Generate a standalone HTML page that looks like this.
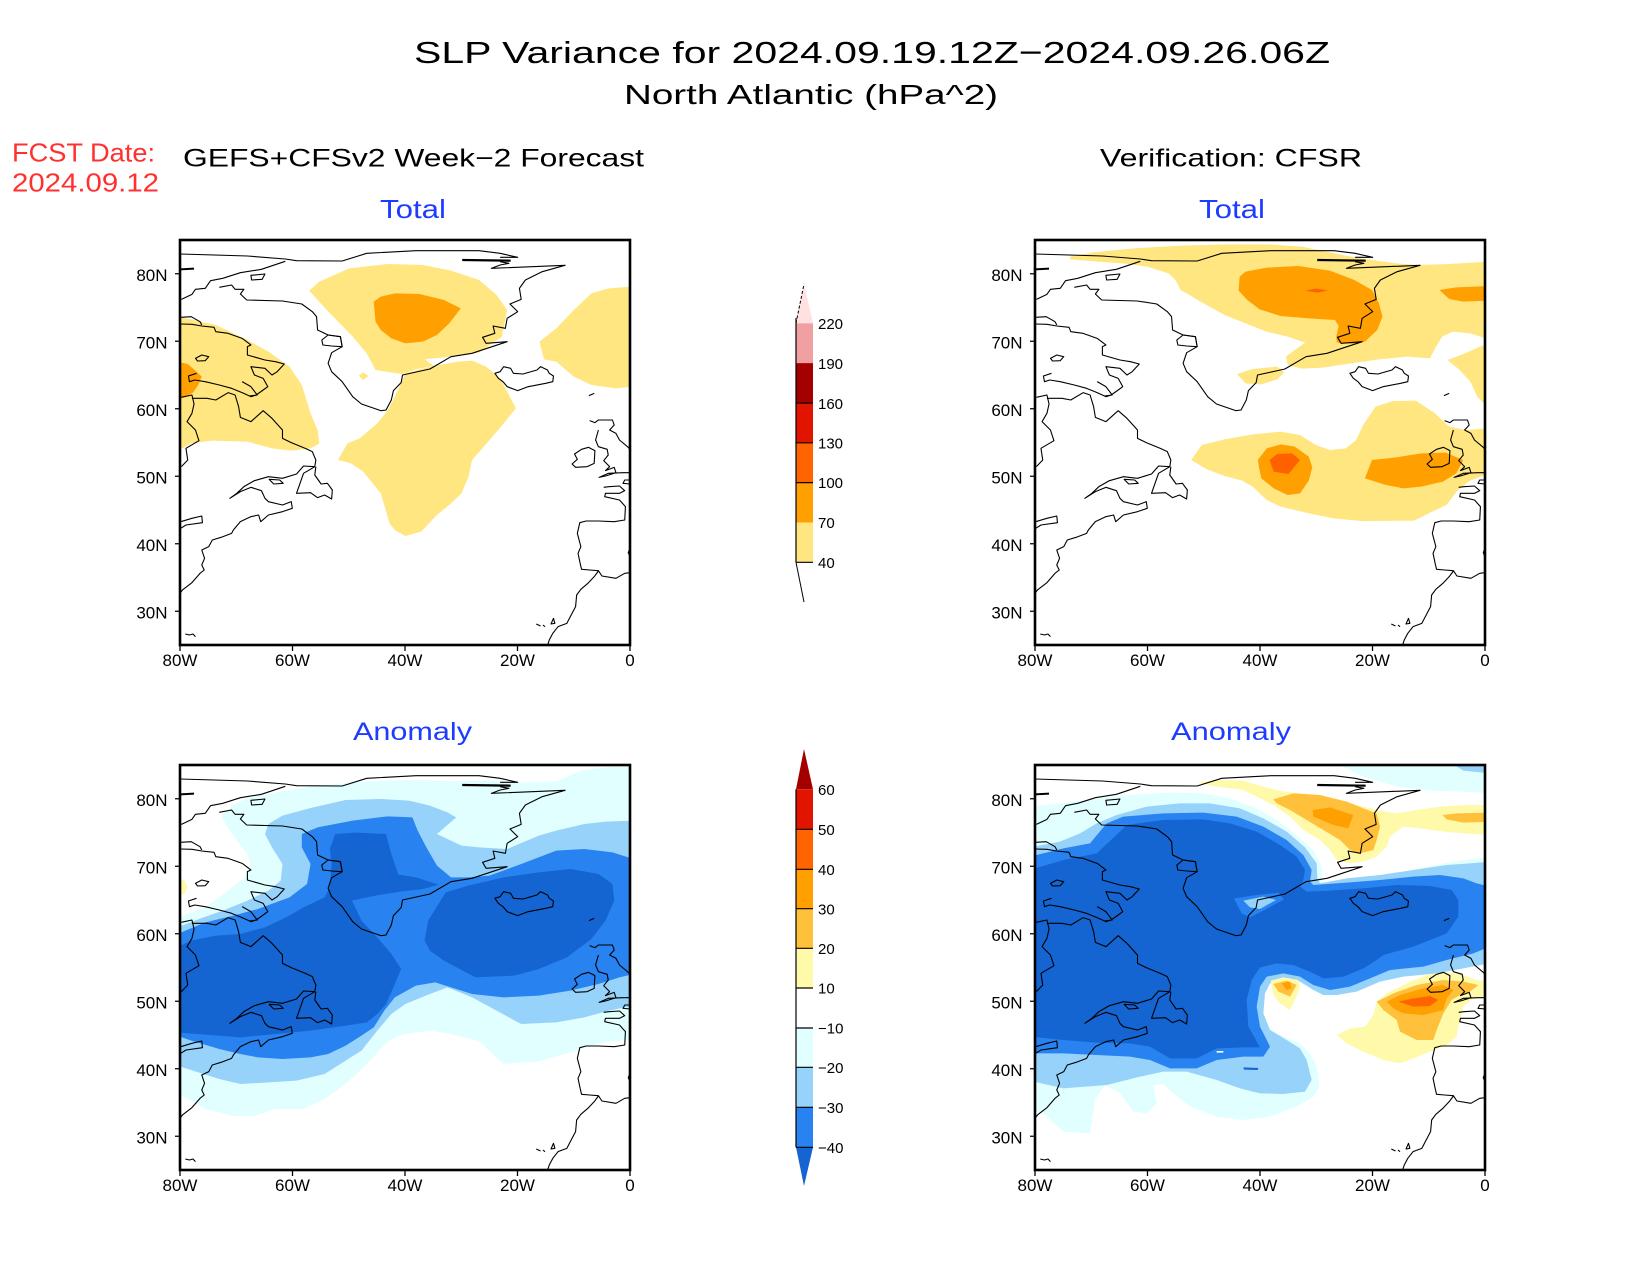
<!DOCTYPE html>
<html><head><meta charset="utf-8"><style>html,body{margin:0;padding:0;background:#fff}svg{display:block}</style></head>
<body>
<svg width="1650" height="1275" viewBox="0 0 1650 1275" xmlns="http://www.w3.org/2000/svg" font-family="Liberation Sans, sans-serif">
<rect width="1650" height="1275" fill="#fff"/>
<defs>
<clipPath id="cTL" clipPathUnits="userSpaceOnUse"><rect x="180" y="240" width="450" height="405"/></clipPath>
<clipPath id="cTR" clipPathUnits="userSpaceOnUse"><rect x="1035" y="240" width="450" height="405"/></clipPath>
<clipPath id="cBL" clipPathUnits="userSpaceOnUse"><rect x="180" y="765" width="450" height="405"/></clipPath>
<clipPath id="cBR" clipPathUnits="userSpaceOnUse"><rect x="1035" y="765" width="450" height="405"/></clipPath>
<g id="coast" fill="none" stroke="#000" stroke-width="1.1" stroke-linejoin="round">
<path vector-effect="non-scaling-stroke" d="M228,162 L420,168 L528,177 L560,182 L690,183 L760,160 L900,152 L1080,152 L1140,160 L1190,172 L1140,172"/>
<path vector-effect="non-scaling-stroke" stroke-width="2.2" d="M1032,180 L1170,182"/>
<path vector-effect="non-scaling-stroke" d="M1140,185 L1165,190 L1140,195 L1115,205 L1325,196 L1260,215 L1212,240 L1195,265 L1200,298 L1168,312 L1190,335 L1160,355 L1155,385 L1120,378 L1125,400 L1090,412 L1100,430 L1160,425 L1060,460 L1000,470 L940,507 L862,525 L858,548 L836,572 L830,600 L815,630 L800,632 L745,612 L720,590 L690,545 L660,515 L650,490 L660,458 L690,440 L685,410 L650,405 L620,390 L617,350 L605,335 L575,312 L520,303 L418,300 L400,282 L410,268 L385,268 L375,255 L340,262"/>
<path vector-effect="non-scaling-stroke" d="M632,420 L650,405 L685,410 L690,440 L660,438 L635,435 Z"/>
<path vector-effect="non-scaling-stroke" d="M232,298 L262,283 L272,268 L300,265 L315,242 L350,235 L400,218 L460,208 L528,184"/>
<path vector-effect="non-scaling-stroke" stroke-width="2" d="M228,208 L268,206"/>
<path vector-effect="non-scaling-stroke" d="M430,226 L470,222 L462,238 L432,240 Z"/>
<path vector-effect="non-scaling-stroke" d="M230,352 L260,350 L285,365 L290,375"/>
<path vector-effect="non-scaling-stroke" d="M230,372 L262,373 L290,378 L325,382 L330,395 L365,400 L405,415 L430,435 L420,440 L420,465 L470,480 L500,485 L525,492 L505,515 L490,525 L470,505 L430,500 L440,525 L465,535 L478,560 L465,570 L445,585 L430,590 L405,578 L375,565 L340,555 L300,545 L270,540 L255,545 L252,528 L275,520"/>
<path vector-effect="non-scaling-stroke" d="M272,475 L290,465 L310,470 L300,482 L278,483 Z"/>
<path vector-effect="non-scaling-stroke" d="M405,545 L430,560 L448,585 L425,588"/>
<path vector-effect="non-scaling-stroke" d="M232,592 L262,585 L268,612 L262,640 L248,665 L272,690 L282,722 L245,745 L250,780 L232,800"/>
<path vector-effect="non-scaling-stroke" d="M262,595 L305,595 L330,600 L365,578 L385,585 L395,620 L400,652 L430,665 L465,632 L490,655 L520,690 L520,715 L545,728 L585,745 L605,755 L615,780 L612,800 L580,820 L570,850 L560,880 L600,878 L620,893 L640,885 L660,897 L662,870 L648,850 L630,852 L612,825 L615,800"/>
<path vector-effect="non-scaling-stroke" d="M612,800 L580,798 L560,822 L520,835 L480,830 L440,842 L410,860 L390,880 L370,895 L400,875 L430,862 L460,872 L470,895 L480,905 L520,915 L545,905 L548,925 L520,935 L480,945 L458,965 L452,945 L430,950 L400,965 L380,990 L375,1000 L345,1012 L320,1020 L310,1040 L290,1050 L298,1075 L290,1095 L297,1110 L285,1120 L262,1148 L235,1170 L228,1180"/>
<path vector-effect="non-scaling-stroke" d="M482,838 L512,840 L522,850 L495,852 Z"/>
<path vector-effect="non-scaling-stroke" d="M230,965 L262,955 L290,948 L292,968 L245,975 L230,985"/>
<path vector-effect="non-scaling-stroke" d="M1125,520 L1140,515 L1150,500 L1170,505 L1178,520 L1205,522 L1245,510 L1255,500 L1275,510 L1280,520 L1292,528 L1290,545 L1270,550 L1220,560 L1190,572 L1160,560 L1148,545 L1135,535 Z"/>
<path vector-effect="non-scaling-stroke" d="M1393,587 L1408,580"/>
<path vector-effect="non-scaling-stroke" d="M1395,662 L1410,668 L1420,660 L1460,660 L1465,675 L1452,690 L1470,700 L1480,720 L1505,742 L1510,748"/>
<path vector-effect="non-scaling-stroke" d="M1420,690 L1412,720 L1420,740 L1445,748 L1448,765 L1435,782 L1452,800 L1440,812 L1465,802 L1470,818 L1440,828 L1422,832 L1448,820 L1490,818 L1510,818"/>
<path vector-effect="non-scaling-stroke" d="M1352,762 L1372,748 L1392,742 L1410,752 L1408,790 L1388,800 L1355,802 L1345,792 L1360,778 Z"/>
<path vector-effect="non-scaling-stroke" d="M1510,840 L1495,840 L1490,850 L1510,852"/>
<path vector-effect="non-scaling-stroke" d="M1435,862 L1450,860 L1480,858 L1495,872 L1480,880 L1440,880 L1438,890 L1480,900 L1497,920 L1495,960 L1465,965 L1420,963 L1385,963 L1367,968 L1360,1000 L1370,1040 L1362,1060 L1368,1090 L1372,1108 L1395,1110 L1420,1112 L1430,1128 L1470,1135 L1495,1120 L1510,1118"/>
<path vector-effect="non-scaling-stroke" d="M1510,1045 L1505,1058 L1510,1070"/>
<path vector-effect="non-scaling-stroke" d="M1420,1113 L1408,1130 L1390,1150 L1370,1168 L1358,1185 L1355,1220 L1340,1250 L1330,1270 L1305,1280 L1290,1300 L1280,1320 L1276,1333"/>
<path vector-effect="non-scaling-stroke" d="M1243,1272 L1255,1278 M1262,1275 L1268,1280 M1285,1272 L1292,1255 L1296,1270 Z"/>
<path vector-effect="non-scaling-stroke" d="M243,1302 L255,1305 L265,1302 L272,1310"/>
</g>
</defs>

<!-- ============ TOP LEFT: forecast total ============ -->
<g clip-path="url(#cTL)">
<g transform="translate(180,240) scale(0.35101,0.33333) translate(-228,-120)">
<path fill="#FFE680" d="M596,272 L625,245 L710,205 L820,192 L920,195 L1000,212 L1080,240 L1130,285 L1160,330 L1145,410 L1080,458 L1000,470 L925,478 L950,497 L900,508 L860,522 L785,510 L760,460 L720,410 L660,345 L620,300 Z"/>
<path fill="#FFA000" d="M780,305 L800,290 L840,280 L910,282 L980,300 L1028,325 L995,370 L960,405 L920,425 L870,430 L830,415 L800,390 L785,365 Z"/>
<path fill="#FFE680" d="M870,520 L940,500 L1020,485 L1060,482 L1100,500 L1140,535 L1185,625 L1150,670 L1110,720 L1060,780 L1050,830 L1030,880 L1000,910 L960,945 L915,995 L870,1008 L840,990 L825,970 L800,880 L750,815 L715,790 L678,780 L705,730 L740,715 L790,670 L820,630 L840,590 Z"/>
<path fill="#FFE680" d="M737,527 L750,517 L765,528 L750,540 Z"/>
<path fill="#FFE680" d="M1252,425 L1300,385 L1350,330 L1400,280 L1450,265 L1515,260 L1515,560 L1470,565 L1400,555 L1350,530 L1300,485 L1265,478 Z"/>
<path fill="#FFE680" d="M220,350 L260,358 L330,375 L420,420 L480,455 L540,500 L575,555 L600,640 L620,690 L625,730 L600,745 L545,752 L490,745 L420,725 L320,722 L260,730 L235,745 L220,750 Z"/>
<path fill="#FFA000" d="M220,485 L250,492 L275,515 L290,530 L280,555 L265,578 L245,590 L220,598 Z"/>
<use href="#coast"/>
</g>
</g>

<!-- ============ TOP RIGHT: CFSR total ============ -->
<g clip-path="url(#cTR)">
<g transform="translate(1035,240) scale(0.35101,0.33333) translate(-100,-120)">
<path fill="#FFE680" d="M200,170 L260,158 L380,145 L520,137 L640,133 L760,133 L860,140 L930,155 L1000,170 L1060,180 L1130,190 L1190,195 L1280,192 L1390,185 L1390,417 L1340,400 L1290,395 L1260,410 L1240,445 L1225,475 L1160,470 L1080,478 L1000,490 L920,503 L860,506 L820,495 L815,470 L840,450 L870,428 L820,410 L760,395 L700,370 L640,345 L580,310 L540,285 L515,270 L500,240 L480,220 L420,200 L350,190 L280,185 L200,178 Z"/>
<path fill="#FFE680" d="M1275,480 L1320,462 L1390,430 L1390,622 L1360,590 L1340,545 L1310,510 Z"/>
<path fill="#FFE680" d="M675,522 L720,507 L790,500 L810,517 L790,538 L745,553 L700,550 Z"/>
<path fill="#FFA000" d="M683,230 L700,215 L760,203 L850,198 L940,212 L1010,240 L1060,270 L1080,310 L1090,350 L1075,390 L1040,425 L1010,432 L960,428 L958,410 L965,378 L955,360 L880,355 L800,348 L740,328 L705,300 L680,272 Z"/>
<path fill="#FF6000" d="M870,272 L900,266 L935,271 L905,278 Z"/>
<path fill="#FFA000" d="M1252,270 L1300,262 L1390,258 L1390,302 L1320,305 L1280,297 Z"/>
<path fill="#FFE680" d="M545,780 L575,735 L640,718 L720,703 L800,695 L855,705 L900,735 L940,750 L985,745 L1015,720 L1035,675 L1070,620 L1120,603 L1185,602 L1240,640 L1280,680 L1330,690 L1390,685 L1390,822 L1340,842 L1305,870 L1272,915 L1232,935 L1180,962 L1030,963 L950,955 L880,940 L800,920 L760,900 L720,860 L690,842 L640,828 L590,808 Z"/>
<path fill="#FFA000" d="M735,780 L760,745 L800,733 L840,740 L880,770 L890,802 L880,842 L855,880 L820,885 L780,865 L745,835 L738,802 Z"/>
<path fill="#FF6000" d="M768,780 L790,762 L832,760 L855,780 L822,822 L780,815 Z"/>
<path fill="#FFA000" d="M1040,835 L1060,780 L1130,772 L1200,760 L1270,758 L1320,780 L1300,820 L1262,845 L1200,860 L1150,865 L1100,855 Z"/>
</g>
<g transform="translate(1035,240) scale(0.35101,0.33333) translate(-228,-120)"><use href="#coast"/></g>
</g>

<!-- ============ BOTTOM LEFT: forecast anomaly ============ -->
<g clip-path="url(#cBL)">
<g transform="translate(180,765) scale(0.35101,0.33333) translate(-228,-133)">
<path fill="#E1FFFF" d="M220,590 L250,580 L300,560 L350,522 L410,472 L430,440 L420,400 L390,360 L360,315 L345,285 L380,252 L420,232 L500,215 L600,198 L720,185 L800,180 L900,178 L1000,182 L1100,180 L1200,185 L1300,182 L1370,150 L1440,140 L1520,136 L1520,955 L1480,960 L1420,968 L1350,992 L1250,1022 L1150,1030 L1080,962 L1000,940 L940,930 L860,942 L820,962 L760,1030 L700,1090 L640,1135 L580,1165 L500,1165 L440,1186 L380,1186 L300,1165 L260,1140 L220,1120 Z"/>
<path fill="#96D2FA" d="M220,620 L290,592 L350,570 L420,540 L480,510 L515,480 L520,430 L490,380 L470,340 L480,310 L520,285 L600,262 L700,238 L800,235 L880,240 L940,255 L990,275 L1015,290 L960,340 L1030,375 L1080,380 L1160,385 L1250,345 L1300,330 L1380,310 L1440,303 L1520,300 L1520,855 L1450,870 L1380,890 L1300,905 L1200,910 L1130,870 L1060,830 L990,800 L940,820 L870,850 L830,880 L790,930 L745,990 L700,1020 L640,1060 L560,1080 L480,1085 L400,1090 L340,1075 L280,1055 L220,1035 Z"/>
<path fill="#2882F0" d="M220,640 L300,605 L380,585 L450,565 L540,530 L590,490 L600,430 L575,380 L575,340 L620,320 L720,300 L820,287 L890,290 L905,330 L930,380 L960,435 L1000,470 L1050,470 L1110,465 L1200,430 L1300,390 L1380,385 L1460,395 L1520,415 L1520,760 L1480,770 L1420,790 L1340,810 L1250,825 L1150,830 L1060,820 L1000,800 L955,785 L900,795 L840,830 L810,870 L780,920 L745,945 L700,975 L650,1000 L600,1010 L520,1015 L450,1010 L400,1000 L340,985 L260,960 L220,945 Z"/>
<path fill="#1464D2" d="M220,680 L260,660 L330,645 L400,640 L470,620 L530,590 L580,560 L640,530 L655,500 L660,430 L655,385 L670,340 L730,336 L815,340 L830,400 L850,462 L900,470 L965,492 L920,505 L860,512 L800,522 L760,530 L718,540 L745,600 L790,650 L830,700 L858,745 L840,790 L815,850 L790,880 L760,905 L700,915 L600,930 L500,940 L400,950 L300,942 L220,935 Z"/>
<path fill="#1464D2" d="M925,660 L935,600 L985,515 L1050,495 L1150,470 L1250,455 L1340,445 L1420,460 L1460,490 L1465,540 L1440,600 L1400,655 L1330,710 L1250,745 L1180,765 L1070,770 L980,720 L940,690 Z"/>
<path fill="#FFFAAA" d="M220,470 L240,478 L250,500 L240,520 L220,522 Z"/>
</g>
<g transform="translate(180,765) scale(0.35101,0.33333) translate(-228,-120)"><use href="#coast"/></g>
</g>

<!-- ============ BOTTOM RIGHT: CFSR anomaly ============ -->
<g clip-path="url(#cBR)">
<g transform="translate(1030,760) scale(0.33333)">
<path fill="#E1FFFF" d="M0,140 L130,125 L290,105 L420,98 L520,100 L600,115 L680,145 L740,180 L800,225 L850,270 L875,320 L878,365 L900,378 L1000,358 L1100,340 L1200,318 L1290,302 L1380,292 L1380,610 L1300,612 L1200,618 L1100,630 L1000,650 L940,672 L880,690 L860,660 L830,625 L770,615 L710,630 L680,655 L665,710 L680,760 L700,795 L750,825 L810,850 L840,880 L860,920 L868,980 L850,1010 L800,1040 L720,1070 L640,1080 L560,1070 L480,1040 L430,1000 L400,972 L370,975 L380,1030 L350,1060 L310,1055 L270,1000 L225,975 L195,1020 L180,1120 L100,1115 L40,1060 L0,1050 Z"/>
<path fill="#E1FFFF" d="M900,0 L1380,0 L1380,100 L1300,95 L1200,92 L1100,80 L1000,50 Z"/>
<path fill="#96D2FA" d="M1250,0 L1380,0 L1380,40 L1300,32 Z"/>
<path fill="#96D2FA" d="M0,262 L90,245 L150,220 L200,190 L260,165 L350,140 L450,130 L540,130 L630,145 L700,175 L770,215 L825,262 L860,310 L862,355 L870,370 L950,355 L1050,345 L1150,330 L1250,315 L1320,310 L1380,305 L1380,610 L1300,625 L1220,640 L1120,650 L1050,665 L980,695 L920,705 L880,705 L850,690 L810,665 L760,660 L720,670 L705,700 L700,760 L720,810 L770,840 L810,865 L830,900 L845,960 L825,995 L760,1002 L690,1000 L630,985 L560,960 L470,935 L400,935 L330,950 L230,975 L100,985 L0,962 Z"/>
<path fill="#2882F0" d="M0,290 L100,265 L180,250 L230,190 L280,170 L400,160 L520,158 L620,170 L700,200 L770,240 L820,285 L845,330 L840,365 L850,375 L950,368 L1050,360 L1150,350 L1230,345 L1300,355 L1340,370 L1380,380 L1380,560 L1330,580 L1250,600 L1180,620 L1080,630 L1020,655 L960,680 L900,690 L850,675 L810,650 L760,640 L710,650 L690,680 L680,740 L690,800 L720,860 L700,890 L640,890 L560,900 L500,925 L420,925 L360,900 L300,890 L200,885 L100,880 L0,880 Z"/>
<path fill="#1464D2" d="M0,330 L100,300 L200,280 L270,215 L290,195 L400,180 L520,178 L600,190 L680,215 L750,255 L800,290 L825,330 L820,360 L810,380 L830,395 L900,392 L1000,385 L1100,375 L1200,378 L1265,390 L1285,420 L1285,470 L1250,520 L1150,560 L1060,585 L1040,600 L1000,625 L940,650 L880,655 L840,635 L790,615 L740,610 L690,622 L665,660 L650,720 L655,800 L690,862 L640,862 L560,865 L500,895 L420,895 L360,860 L300,850 L200,848 L100,840 L0,830 Z"/>
<path fill="#2882F0" d="M612,415 L680,405 L745,398 L762,418 L700,452 L660,472 L635,460 Z"/>
<path fill="#96D2FA" d="M640,422 L700,410 L738,420 L690,447 L660,442 Z"/>
<path fill="#1464D2" d="M640,922 L685,924 L683,930 L642,929 Z"/>
<path fill="#FFFFFF" d="M560,873 L580,873 L580,878 L560,878 Z"/>
<!-- north yellow -->
<path fill="#FFFAAA" d="M500,68 L570,60 L640,62 L700,80 L760,95 L860,105 L950,125 L1000,140 L1040,150 L1100,160 L1160,150 L1230,140 L1300,135 L1380,135 L1380,225 L1300,220 L1240,215 L1170,205 L1120,200 L1080,230 L1070,260 L1040,290 L1000,305 L960,310 L920,300 L900,270 L870,240 L820,210 L780,170 L730,135 L680,110 L640,90 L560,80 Z"/>
<path fill="#FFC03C" d="M730,118 L790,100 L870,105 L950,125 L1000,145 L1040,160 L1050,200 L1040,240 L1030,270 L990,280 L960,270 L930,240 L880,210 L830,180 L780,150 L740,130 Z"/>
<path fill="#FFA000" d="M848,150 L900,142 L970,165 L955,205 L910,195 L850,170 Z"/>
<path fill="#FFC03C" d="M1238,165 L1280,160 L1380,158 L1380,185 L1300,188 L1250,178 Z"/>
<!-- south yellows (zoom10 coords +600) -->
<g transform="translate(0,600)">
<path fill="#FFFAAA" d="M722,62 L760,52 L805,60 L810,80 L800,110 L780,150 L750,130 L730,105 Z"/>
<path fill="#FFC03C" d="M730,72 L770,62 L800,75 L780,110 L745,95 Z"/>
<path fill="#FFA000" d="M755,70 L780,65 L785,85 L770,90 Z"/>
<path fill="#FFFAAA" d="M920,225 L960,205 L1005,200 L1030,165 L1040,125 L1070,100 L1130,70 L1190,45 L1250,35 L1300,45 L1340,60 L1380,65 L1380,110 L1330,115 L1300,140 L1285,200 L1280,230 L1250,255 L1200,275 L1150,295 L1110,310 L1060,300 L1000,275 L950,250 Z"/>
<path fill="#FFC03C" d="M1040,125 L1090,100 L1160,75 L1240,60 L1300,65 L1345,75 L1320,95 L1290,105 L1265,120 L1240,160 L1220,210 L1210,240 L1160,240 L1110,215 L1100,180 L1060,150 Z"/>
<path fill="#FFA000" d="M1070,125 L1110,105 L1180,85 L1240,75 L1270,90 L1250,115 L1240,150 L1180,165 L1120,160 L1090,145 Z"/>
<path fill="#FF6400" d="M1105,125 L1150,115 L1200,108 L1225,120 L1200,138 L1150,140 Z"/>
</g>
</g>
<g transform="translate(1035,765) scale(0.35101,0.33333) translate(-228,-120)"><use href="#coast"/></g>
</g>

<!-- ============ Frames, ticks, labels ============ -->
<g fill="none" stroke="#000" stroke-width="2.6">
<rect x="180" y="240" width="450" height="405"/>
<rect x="1035" y="240" width="450" height="405"/>
<rect x="180" y="765" width="450" height="405"/>
<rect x="1035" y="765" width="450" height="405"/>
</g>
<g stroke="#000" stroke-width="1.3">
<path d="M175,273.75H180M175,341.25H180M175,408.75H180M175,476.25H180M175,543.75H180M175,611.25H180"/>
<path d="M1030,273.75H1035M1030,341.25H1035M1030,408.75H1035M1030,476.25H1035M1030,543.75H1035M1030,611.25H1035"/>
<path d="M175,798.75H180M175,866.25H180M175,933.75H180M175,1001.25H180M175,1068.75H180M175,1136.25H180"/>
<path d="M1030,798.75H1035M1030,866.25H1035M1030,933.75H1035M1030,1001.25H1035M1030,1068.75H1035M1030,1136.25H1035"/>
<path d="M180,645V651M292.5,645V651M405,645V651M517.5,645V651M630,645V651"/>
<path d="M1035,645V651M1147.5,645V651M1260,645V651M1372.5,645V651M1485,645V651"/>
<path d="M180,1170V1176M292.5,1170V1176M405,1170V1176M517.5,1170V1176M630,1170V1176"/>
<path d="M1035,1170V1176M1147.5,1170V1176M1260,1170V1176M1372.5,1170V1176M1485,1170V1176"/>
</g>
<g font-size="17" fill="#000" text-anchor="end">
<text x="167.5" y="281">80N</text><text x="167.5" y="348.5">70N</text><text x="167.5" y="416">60N</text><text x="167.5" y="483.5">50N</text><text x="167.5" y="551">40N</text><text x="167.5" y="618.5">30N</text>
<text x="1022.5" y="281">80N</text><text x="1022.5" y="348.5">70N</text><text x="1022.5" y="416">60N</text><text x="1022.5" y="483.5">50N</text><text x="1022.5" y="551">40N</text><text x="1022.5" y="618.5">30N</text>
<text x="167.5" y="806">80N</text><text x="167.5" y="873.5">70N</text><text x="167.5" y="941">60N</text><text x="167.5" y="1008.5">50N</text><text x="167.5" y="1076">40N</text><text x="167.5" y="1143.5">30N</text>
<text x="1022.5" y="806">80N</text><text x="1022.5" y="873.5">70N</text><text x="1022.5" y="941">60N</text><text x="1022.5" y="1008.5">50N</text><text x="1022.5" y="1076">40N</text><text x="1022.5" y="1143.5">30N</text>
</g>
<g font-size="17" fill="#000" text-anchor="middle">
<text x="180" y="666">80W</text><text x="292.5" y="666">60W</text><text x="405" y="666">40W</text><text x="517.5" y="666">20W</text><text x="630" y="666">0</text>
<text x="1035" y="666">80W</text><text x="1147.5" y="666">60W</text><text x="1260" y="666">40W</text><text x="1372.5" y="666">20W</text><text x="1485" y="666">0</text>
<text x="180" y="1191">80W</text><text x="292.5" y="1191">60W</text><text x="405" y="1191">40W</text><text x="517.5" y="1191">20W</text><text x="630" y="1191">0</text>
<text x="1035" y="1191">80W</text><text x="1147.5" y="1191">60W</text><text x="1260" y="1191">40W</text><text x="1372.5" y="1191">20W</text><text x="1485" y="1191">0</text>
</g>

<!-- ============ Titles ============ -->
<text x="414" y="63" font-size="31" textLength="916" lengthAdjust="spacingAndGlyphs" fill="#000">SLP Variance for 2024.09.19.12Z−2024.09.26.06Z</text>
<text x="624" y="104" font-size="28" textLength="374" lengthAdjust="spacingAndGlyphs" fill="#000">North Atlantic (hPa^2)</text>
<text x="12" y="161.5" font-size="26" textLength="143" lengthAdjust="spacingAndGlyphs" fill="#ff3030">FCST Date:</text>
<text x="12" y="191.5" font-size="26" textLength="147" lengthAdjust="spacingAndGlyphs" fill="#ff3030">2024.09.12</text>
<text x="183" y="166.5" font-size="25" textLength="461" lengthAdjust="spacingAndGlyphs" fill="#000">GEFS+CFSv2 Week−2 Forecast</text>
<text x="1100" y="166.5" font-size="25" textLength="262" lengthAdjust="spacingAndGlyphs" fill="#000">Verification: CFSR</text>
<text x="380" y="218" font-size="26" textLength="66" lengthAdjust="spacingAndGlyphs" fill="#1E3CFF">Total</text>
<text x="1199" y="218" font-size="26" textLength="66" lengthAdjust="spacingAndGlyphs" fill="#1E3CFF">Total</text>
<text x="353" y="740" font-size="25" textLength="119" lengthAdjust="spacingAndGlyphs" fill="#1E3CFF">Anomaly</text>
<text x="1171" y="740" font-size="25" textLength="120" lengthAdjust="spacingAndGlyphs" fill="#1E3CFF">Anomaly</text>

<!-- ============ Colorbar 1 (Total) ============ -->
<g>
<path d="M796,323.3 L804,284 L813,323.3 Z" fill="#FFE1E1"/>
<path d="M796,323.3 L804,284" stroke="#000" stroke-width="1" stroke-dasharray="3,2"/>
<rect x="796" y="323.3" width="17" height="39.8" fill="#F0A0A0"/>
<rect x="796" y="363.1" width="17" height="39.9" fill="#A50000"/>
<rect x="796" y="403" width="17" height="39.8" fill="#E11400"/>
<rect x="796" y="442.8" width="17" height="39.8" fill="#FF6400"/>
<rect x="796" y="482.6" width="17" height="39.9" fill="#FFA000"/>
<rect x="796" y="522.5" width="17" height="39.8" fill="#FFE680"/>
<path d="M796,562.3 L804,602" stroke="#000" stroke-width="1"/>
<path d="M796,318 V562.3 M796,403H813 M796,442.8H813 M796,482.6H813 M796,562.3H813" stroke="#000" stroke-width="1.2" fill="none"/>
<g font-size="15" fill="#000">
<text x="818" y="329">220</text><text x="818" y="369">190</text><text x="818" y="409">160</text><text x="818" y="448.5">130</text><text x="818" y="488">100</text><text x="818" y="528">70</text><text x="818" y="568">40</text>
</g>
</g>

<!-- ============ Colorbar 2 (Anomaly) ============ -->
<g>
<path d="M796,789.3 L804,749 L813,789.3 Z" fill="#A50000"/>
<rect x="796" y="789.3" width="17" height="40" fill="#E11400"/>
<rect x="796" y="829.3" width="17" height="40" fill="#FF6400"/>
<rect x="796" y="869.3" width="17" height="39.4" fill="#FFA000"/>
<rect x="796" y="908.7" width="17" height="39.6" fill="#FFC03C"/>
<rect x="796" y="948.3" width="17" height="39.7" fill="#FFFAAA"/>
<rect x="796" y="1028" width="17" height="39.3" fill="#E1FFFF"/>
<rect x="796" y="1067.3" width="17" height="40" fill="#96D2FA"/>
<rect x="796" y="1107.3" width="17" height="40" fill="#2882F0"/>
<path d="M796,1147.3 L813,1147.3 L804,1186 Z" fill="#1464D2"/>
<path d="M796,789.3 V1147.3 M796,829.3H813 M796,869.3H813 M796,908.7H813 M796,948.3H813 M796,988H813 M796,1028H813 M796,1067.3H813 M796,1107.3H813 M796,1147.3H813" stroke="#000" stroke-width="1.2" fill="none"/>
<g font-size="15" fill="#000">
<text x="818" y="795">60</text><text x="818" y="835">50</text><text x="818" y="875">40</text><text x="818" y="914.5">30</text><text x="818" y="954">20</text><text x="818" y="993.5">10</text>
<text x="818" y="1033.5">−10</text><text x="818" y="1073">−20</text><text x="818" y="1113">−30</text><text x="818" y="1153">−40</text>
</g>
</g>
</svg>
</body></html>
